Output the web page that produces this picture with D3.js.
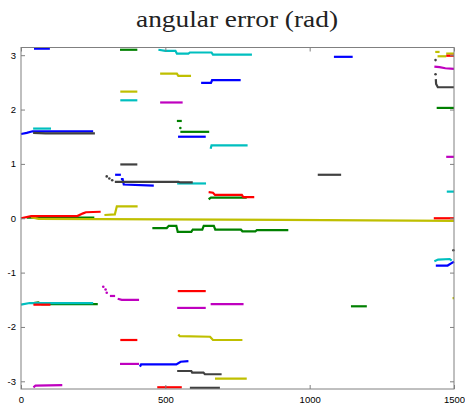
<!DOCTYPE html>
<html>
<head>
<meta charset="utf-8">
<script src="https://cdn.jsdelivr.net/npm/d3@7"></script>
<style>
  body { margin: 0; background: #fff; }
  .tick text { font-family: "Liberation Sans", Arial, sans-serif; font-size: 9.5px; fill: #000; }
</style>
</head>
<body>
<svg id="chart" width="465" height="409"></svg>
<script>
'use strict'

// tick labels
const xTicks = [0, 500, 1000, 1500]
const yTicks = [-3, -2, -1, 0, 1, 2, 3]

// every series is a list of pieces, every piece a list of [frame, error] points
// (a piece with one point is a lone dot)
const blueSegs = [
  [[45, 3.12], [100, 3.12]],
  [[0, 1.55], [20, 1.57], [40, 1.6], [250, 1.6]],
  [[326, 0.8], [346, 0.8]],
  [[346, 0.72], [352, 0.72], [356, 0.62], [460, 0.6]],
  [[544, 1.5], [640, 1.5]],
  [[624, 2.49], [658, 2.49], [662, 2.54], [761, 2.54]],
  [[1084, 2.97], [1149, 2.97]],
  [[412, -2.73], [416, -2.69], [538, -2.69], [553, -2.64], [580, -2.63]],
  [[1437, -0.87], [1478, -0.87], [1490, -0.83], [1500, -0.8]]
]
const greenSegs = [
  [[343, 3.1], [403, 3.1]],
  [[20, 0.01], [254, 0.01]],
  [[43, -1.56], [60, -1.55], [72, -1.58], [266, -1.58]],
  [[540, 1.79], [557, 1.79]],
  [[552, 1.66]],
  [[552, 1.59], [652, 1.59]],
  [[650, 0.35], [658, 0.38], [782, 0.38]],
  [[455, -0.18], [505, -0.18], [512, -0.14], [538, -0.14], [543, -0.25], [590, -0.25], [595, -0.21],
   [628, -0.21], [633, -0.14], [668, -0.14], [673, -0.21], [762, -0.21], [767, -0.24], [812, -0.24],
   [817, -0.22], [926, -0.22]],
  [[1143, -1.62], [1198, -1.62]],
  [[1440, 2.03], [1500, 2.03]]
]
const redSegs = [
  [[0, 0], [35, 0.04], [195, 0.04], [215, 0.09], [225, 0.11], [276, 0.12]],
  [[43, -1.59], [102, -1.59]],
  [[344, -2.24], [403, -2.24]],
  [[472, -3.11], [557, -3.11]],
  [[543, -1.34], [640, -1.34]],
  [[650, 0.48], [665, 0.47], [672, 0.43], [765, 0.43], [770, 0.39], [808, 0.39]],
  [[1430, 0], [1500, 0]],
  [[1473, 2.99], [1500, 2.99]]
]
const cyanSegs = [
  [[42, 1.65], [104, 1.65]],
  [[0, -1.59], [30, -1.56], [250, -1.56]],
  [[344, 2.17], [403, 2.17]],
  [[476, 3.1], [500, 3.08], [535, 3.08], [540, 3.03], [580, 3.03], [585, 3.05], [660, 3.05], [665, 3.01], [800, 3.01]],
  [[541, 0.64], [641, 0.64]],
  [[657, 1.28], [660, 1.34], [785, 1.34]],
  [[1475, 0.49], [1500, 0.49]],
  [[1432, -0.79], [1445, -0.76], [1485, -0.75], [1492, -0.78]]
]
const magentaSegs = [
  [[43, -3.11], [50, -3.08], [143, -3.07]],
  [[285, -1.26]], [[293, -1.31]], [[297, -1.37]], [[308, -1.43], [326, -1.43]],
  [[335, -1.48], [349, -1.5], [409, -1.5]],
  [[343, -2.68], [409, -2.68]],
  [[482, 2.13], [560, 2.13]],
  [[541, -1.65], [640, -1.65]],
  [[657, -1.58], [771, -1.58]],
  [[1432, 2.79], [1450, 2.78], [1470, 2.76], [1500, 2.75]],
  [[1473, 1.13], [1500, 1.13]]
]
const yellowSegs = [
  [[35, 0.02], [60, -0.01], [500, -0.02], [900, -0.03], [1500, -0.05]],
  [[289, 0.06], [325, 0.07], [332, 0.22], [404, 0.22]],
  [[344, 2.33], [403, 2.33]],
  [[482, 2.66], [540, 2.66], [545, 2.62], [589, 2.62]],
  [[545, -2.14], [550, -2.17], [655, -2.18], [665, -2.24], [767, -2.24]],
  [[672, -2.95], [782, -2.95]],
  [[1435, 3.06], [1450, 3.06]],
  [[1443, 2.98], [1473, 2.98]],
  [[1473, 3.03], [1500, 3.03]],
  [[1495, -1.47], [1500, -1.47]]
]
const graySegs = [
  [[42, 1.57], [85, 1.56], [256, 1.56]],
  [[344, 0.99], [403, 0.99]],
  [[297, 0.77]], [[306, 0.73]], [[316, 0.7]],
  [[325, 0.67], [545, 0.67], [550, 0.66], [595, 0.66]],
  [[541, -2.81], [590, -2.81], [593, -2.84], [632, -2.84], [637, -2.87], [695, -2.87]],
  [[585, -3.12], [689, -3.12]],
  [[1028, 0.8], [1109, 0.8]],
  [[1436, 2.91]], [[1436, 2.65]],
  [[1437, 2.56], [1438, 2.47], [1444, 2.41], [1500, 2.41]],
  [[1498, -0.59]]
]

const series = [
  {segs: greenSegs, color: '#008000'},
  {segs: yellowSegs, color: '#bfbf00'},
  {segs: blueSegs, color: '#0000ff'},
  {segs: cyanSegs, color: '#00bfbf'},
  {segs: magentaSegs, color: '#bf00bf'},
  {segs: graySegs, color: '#404040'},
  {segs: redSegs, color: '#ff0000'}
]

const svg = d3.select('#chart')
const m = {left: 21, right: 454, top: 47.5, bottom: 389}

const x = d3.scaleLinear().domain([0, 1500]).range([m.left, m.right])
const y = d3.scaleLinear().domain([-Math.PI, Math.PI]).range([m.bottom, m.top])

// title
svg.append('text')
  .attr('x', 237).attr('y', 27)
  .attr('text-anchor', 'middle')
  .attr('textLength', 202)
  .attr('lengthAdjust', 'spacingAndGlyphs')
  .style('font-family', '"Liberation Serif", "Times New Roman", serif')
  .style('font-size', '23px')
  .style('fill', '#222')
  .text('angular error (rad)')

// data
const line = d3.line().x(d => x(d[0])).y(d => y(d[1]))
const plot = svg.append('g')
series.forEach(s => {
  s.segs.forEach(seg => {
    if (seg.length === 1) {
      plot.append('circle')
        .attr('cx', x(seg[0][0])).attr('cy', y(seg[0][1]))
        .attr('r', 1.3)
        .attr('fill', s.color)
    } else {
      plot.append('path')
        .attr('d', line(seg))
        .attr('fill', 'none')
        .attr('stroke', s.color)
        .attr('stroke-width', 2.2)
    }
  })
})

// axes: ticks point inwards, on every side (matlab box)
const axisColor = '#808080'
const ax = [
  svg.append('g').attr('transform', `translate(0,${m.bottom})`)
    .call(d3.axisBottom(x).tickValues(xTicks).tickSizeInner(-4).tickSizeOuter(0).tickPadding(7).tickFormat(d3.format('d'))),
  svg.append('g').attr('transform', `translate(0,${m.top})`)
    .call(d3.axisTop(x).tickValues(xTicks).tickSizeInner(-4).tickSizeOuter(0).tickFormat('')),
  svg.append('g').attr('transform', `translate(${m.left},0)`)
    .call(d3.axisLeft(y).tickValues(yTicks).tickSizeInner(-4).tickSizeOuter(0).tickPadding(5).tickFormat(d3.format('d'))),
  svg.append('g').attr('transform', `translate(${m.right},0)`)
    .call(d3.axisRight(y).tickValues(yTicks).tickSizeInner(-4).tickSizeOuter(0).tickFormat(''))
]
ax.forEach(g => {
  g.select('.domain').remove()
  g.selectAll('.tick line').attr('stroke', axisColor)
})
ax[2].selectAll('.tick text').text(d => d < 0 ? '-' + Math.abs(d) : d)

// box
svg.append('rect')
  .attr('x', m.left).attr('y', m.top)
  .attr('width', m.right - m.left).attr('height', m.bottom - m.top)
  .attr('fill', 'none')
  .attr('stroke', axisColor)
  .attr('stroke-width', 1)
</script>
</body>
</html>
